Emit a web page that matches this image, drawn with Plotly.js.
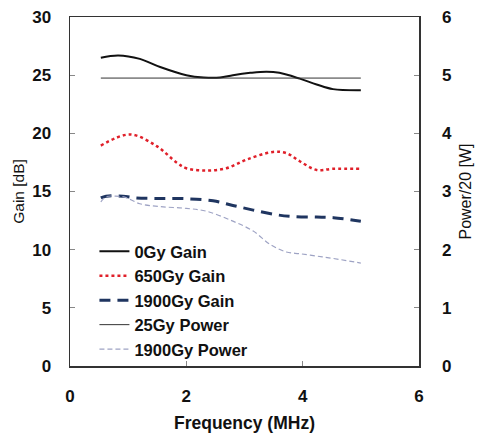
<!DOCTYPE html>
<html>
<head>
<meta charset="utf-8">
<script src="https://cdn.plot.ly/plotly-3.0.1.min.js"></script>
<style>html,body{margin:0;padding:0;background:#fff;}#chart{width:478px;height:438px;}</style>
</head>
<body>
<div id="chart"></div>
<script>
// Frequency (MHz) sample points
const freq0 = [0.53, 0.83, 1.2, 1.55, 2.0, 2.3, 2.58, 2.8, 3.1, 3.38, 3.6, 3.95, 4.24, 4.52, 5.0];
const gain0Gy = [26.5, 26.7, 26.4, 25.7, 25.0, 24.8, 24.8, 25.0, 25.2, 25.3, 25.2, 24.7, 24.2, 23.8, 23.7];

const freq650 = [0.53, 1.03, 1.49, 1.83, 2.0, 2.35, 2.69, 3.04, 3.49, 3.72, 3.95, 4.24, 4.52, 5.0];
const gain650Gy = [18.95, 19.9, 18.9, 17.5, 17.0, 16.8, 17.0, 17.75, 18.4, 18.3, 17.6, 16.85, 16.95, 16.95];

const freq1900 = [0.53, 0.62, 0.91, 1.14, 1.55, 2.0, 2.46, 2.8, 3.15, 3.55, 3.84, 4.24, 4.53, 5.0];
const gain1900Gy = [14.45, 14.6, 14.6, 14.45, 14.4, 14.38, 14.2, 13.8, 13.4, 13.0, 12.85, 12.8, 12.75, 12.45];

const freqP25 = [0.53, 5.0];
const power25Gy = [4.95, 4.95];

const freqP1900 = [0.53, 0.62, 0.78, 0.95, 1.2, 1.55, 2.0, 2.35, 2.8, 3.15, 3.44, 3.72, 3.95, 4.24, 4.52, 5.0];
const power1900Gy = [2.82, 2.91, 2.92, 2.9, 2.79, 2.74, 2.71, 2.66, 2.49, 2.32, 2.09, 1.96, 1.93, 1.89, 1.85, 1.77];

const xTicks = [0, 2, 4, 6];
const yTicks = [0, 5, 10, 15, 20, 25, 30];
const y2Ticks = [0, 1, 2, 3, 4, 5, 6];

const traces = [
  {x: freq0, y: gain0Gy, name: '0Gy Gain', mode: 'lines',
   line: {color: '#111111', width: 2, shape: 'spline'}},
  {x: freq650, y: gain650Gy, name: '650Gy Gain', mode: 'lines',
   line: {color: '#e0202a', width: 2.5, dash: 'dot', shape: 'spline'}},
  {x: freq1900, y: gain1900Gy, name: '1900Gy Gain', mode: 'lines',
   line: {color: '#1f3560', width: 3, dash: '11px,7px', shape: 'spline'}},
  {x: freqP25, y: power25Gy, name: '25Gy Power', mode: 'lines', yaxis: 'y2',
   line: {color: '#333333', width: 1, shape: 'linear'}},
  {x: freqP1900, y: power1900Gy, name: '1900Gy Power', mode: 'lines', yaxis: 'y2',
   line: {color: '#9ea3c4', width: 1.2, dash: '5px,3px', shape: 'spline'}}
];

const FONT = 'Liberation Sans, Arial, sans-serif';
const tickFont = {family: FONT, size: 17, color: '#111', weight: 'bold'};
const layout = {
  width: 478, height: 438,
  margin: {l: 70, r: 59, t: 17, b: 72},
  paper_bgcolor: '#fff', plot_bgcolor: '#fff',
  showlegend: true,
  legend: {x: 0.07, y: 0.378, xanchor: 'left', yanchor: 'top', bgcolor: 'rgba(0,0,0,0)',
           font: {family: FONT, size: 16.5, color: '#111', weight: 'bold'},
           tracegroupgap: 0, itemwidth: 30},
  xaxis: {range: [0, 6], tickvals: xTicks, ticktext: xTicks.map(String),
          showgrid: false, zeroline: false, showline: true, mirror: true,
          linecolor: '#333', linewidth: 1.5, ticks: 'inside', ticklen: 5, tickcolor: '#888',
          tickfont: tickFont, ticklabelstandoff: 14,
          title: {text: 'Frequency (MHz)', standoff: 12,
                  font: {family: FONT, size: 17.5, color: '#111', weight: 'bold'}}},
  yaxis: {range: [0, 30], tickvals: yTicks, ticktext: yTicks.map(String),
          showgrid: false, zeroline: false, showline: true,
          linecolor: '#333', linewidth: 1.5, ticks: 'inside', ticklen: 5, tickcolor: '#888',
          tickfont: tickFont, ticklabelstandoff: 14,
          title: {text: 'Gain [dB]', standoff: 4,
                  font: {family: FONT, size: 15.5, color: '#111'}}},
  yaxis2: {range: [0, 6], tickvals: y2Ticks, ticktext: y2Ticks.map(String), overlaying: 'y', side: 'right',
           showgrid: false, zeroline: false, showline: true,
           linecolor: '#333', linewidth: 1.5, ticks: 'inside', ticklen: 5, tickcolor: '#888',
           tickfont: tickFont, ticklabelstandoff: 18,
           title: {text: 'Power/20 [W]', standoff: 9,
                   font: {family: FONT, size: 16, color: '#111'}}}
};

Plotly.newPlot('chart', traces, layout, {displayModeBar: false, staticPlot: true});
</script>
</body>
</html>
